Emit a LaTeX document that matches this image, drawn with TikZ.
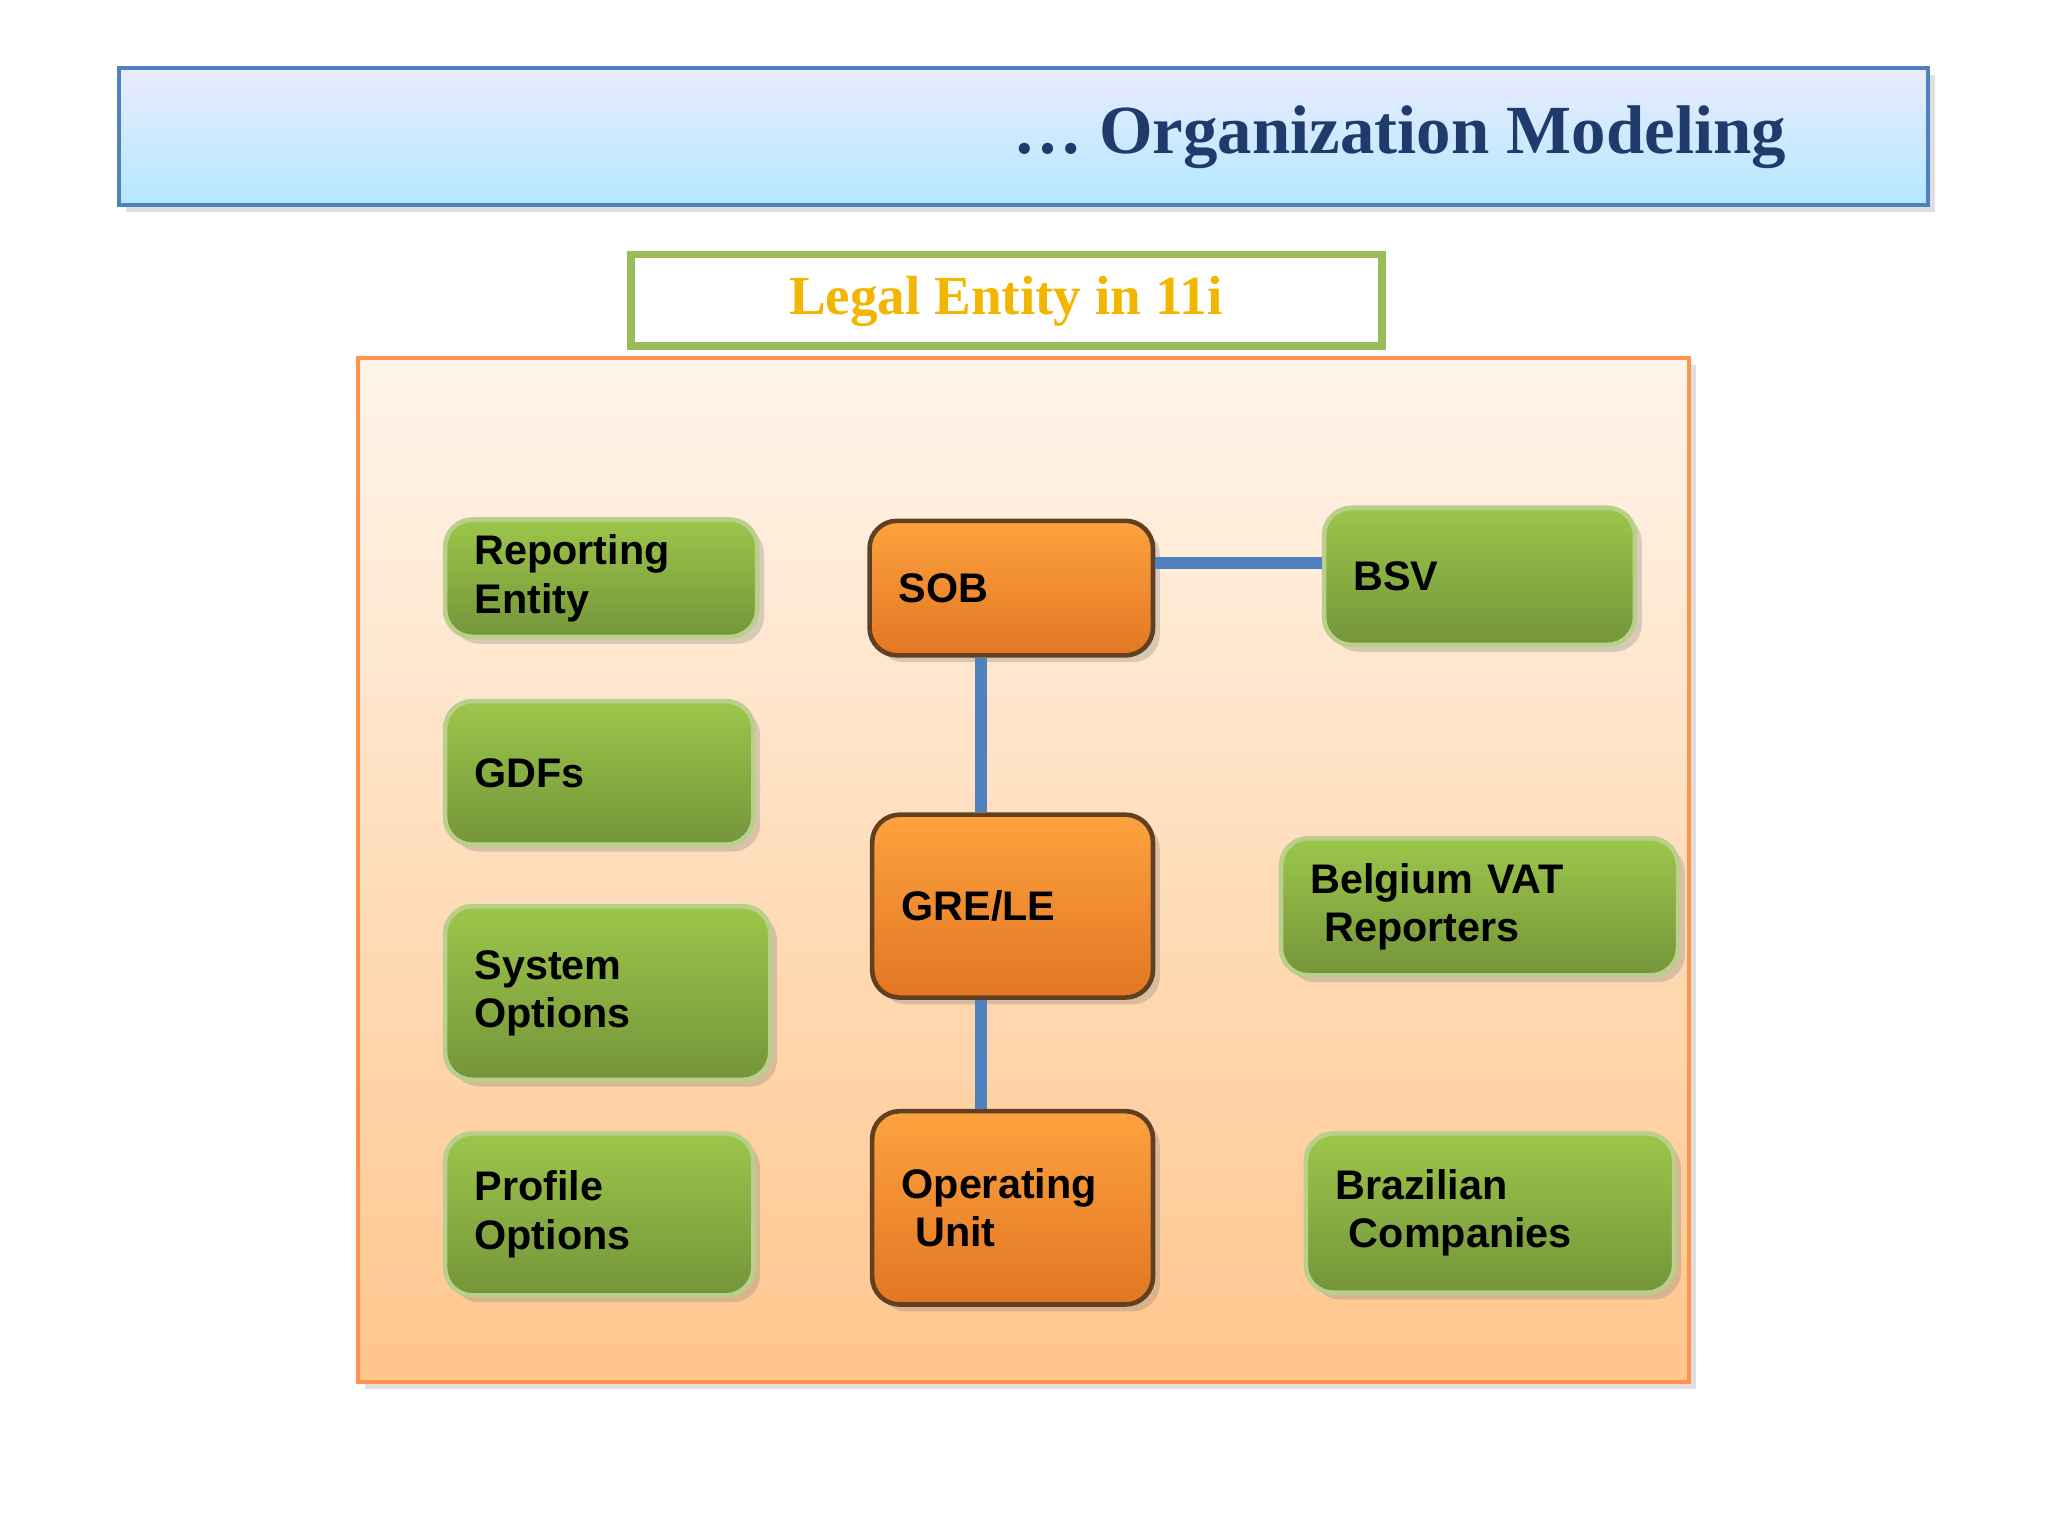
\documentclass[tikz,border=0pt]{standalone}
\usepackage{fontspec}
\setmainfont{Liberation Serif}
\setsansfont{Liberation Sans}
\usetikzlibrary{shadows}
\definecolor{tblue}{HTML}{1F3B6B}
\definecolor{lnblue}{HTML}{4F81BD}
\definecolor{ggreen}{HTML}{9BBB59}
\definecolor{gtop}{HTML}{9CC64A}
\definecolor{gbot}{HTML}{74953A}
\definecolor{otop}{HTML}{FDA23E}
\definecolor{obot}{HTML}{E27624}
\definecolor{gold}{HTML}{F2B500}
\tikzset{
  x=0.01cm,y=-0.01cm,
  gbox/.style={rounded corners=6pt,draw=ggreen!70!white,line width=1pt,top color=gtop,bottom color=gbot,
    drop shadow={shadow xshift=1.5pt,shadow yshift=-1.5pt,opacity=0.3},anchor=north west,align=left,inner xsep=0.2cm,
    font=\sffamily\bfseries\fontsize{9pt}{10.5pt}\selectfont,text=black},
  obox/.style={rounded corners=6pt,draw=black!50!brown,line width=1pt,top color=otop,bottom color=obot,
    drop shadow={shadow xshift=1.5pt,shadow yshift=-1.5pt,opacity=0.3},anchor=north west,align=left,inner xsep=0.2cm,
    font=\sffamily\bfseries\fontsize{9pt}{10.5pt}\selectfont,text=black},
  conn/.style={draw=lnblue,line width=2.5pt}
}
\newcommand{\bx}[7]{\node[#1,minimum width=#4*0.01cm,minimum height=#5*0.01cm,text width=#4*0.01cm-0.45cm] (#2) at (#3) {#6};}
\begin{document}
\begin{tikzpicture}
\useasboundingbox (0,0) rectangle (1568,1176);
\fill[white] (0,0) rectangle (1568,1176);
% title bar
\draw[draw=lnblue,line width=1pt,top color=blue!8!white,bottom color=blue!30!cyan!30!white,
  drop shadow={shadow xshift=1.5pt,shadow yshift=-1.5pt,opacity=0.25}] (91,52) rectangle (1476,157);
\node[font=\bfseries\fontsize{15pt}{18pt}\selectfont,text=tblue,anchor=east] (title) at (1380,105) {\dots\ Organization Modeling};
% legal entity
\draw[draw=ggreen,line width=1.6pt,fill=white] (483,195) rectangle (1058,265);
\node[font=\bfseries\fontsize{12pt}{14pt}\selectfont,text=gold] (le) at (770,231) {Legal Entity in 11i};
% big box
\draw[draw=orange!80!red!70,line width=1pt,top color=orange!8!white,bottom color=orange!45!white,
  drop shadow={shadow xshift=1.5pt,shadow yshift=-1.5pt,opacity=0.25}] (274,274) rectangle (1293,1058);
% green boxes
\bx{gbox}{re}{339,396}{239}{89}{Reporting\\Entity}{}
\bx{gbox}{gdf}{339,535}{236}{110}{GDFs}{}
\bx{gbox}{so}{339,692}{249}{133}{System\\Options}{}
\bx{gbox}{po}{339,866}{236}{124}{Profile\\Options}{}
\bx{gbox}{bsv}{1012,387}{238}{105}{BSV}{}
\bx{gbox}{bel}{979,640}{304}{105}{Belgium VAT\\\ Reporters}{}
\bx{gbox}{bra}{998,866}{282}{122}{Brazilian\\\ Companies}{}
% orange boxes
\bx{obox}{sob}{664,397}{217}{103}{SOB}{}
\bx{obox}{gre}{666,622}{215}{140}{GRE/LE}{}
\bx{obox}{ou}{666,849}{215}{148}{Operating\\\ Unit}{}
% connectors
\draw[conn] (sob.east|-0,431) -- (bsv.west|-0,431);
\draw[conn] (sob.south-|751,0) -- (gre.north-|751,0);
\draw[conn] (gre.south-|751,0) -- (ou.north-|751,0);
\end{tikzpicture}
\end{document}
